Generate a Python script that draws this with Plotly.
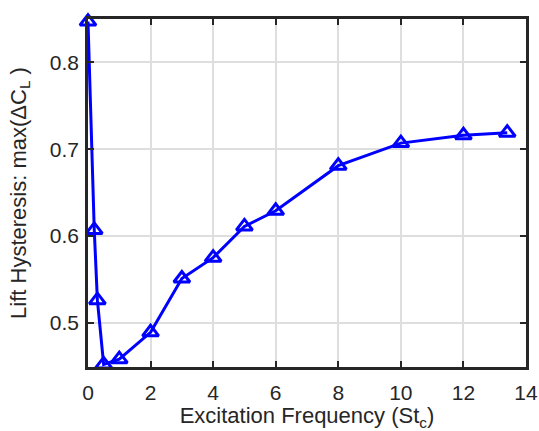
import plotly.graph_objects as go

freq = [0, 0.2, 0.3, 0.5, 1, 2, 3, 4, 5, 6, 8, 10, 12, 13.4]
hysteresis = [0.847, 0.607, 0.526, 0.452, 0.458, 0.489, 0.551, 0.575, 0.611, 0.629, 0.681, 0.707, 0.716, 0.719]
x_ticks = [0, 2, 4, 6, 8, 10, 12, 14]
y_ticks = [0.5, 0.6, 0.7, 0.8]

FONT = "Liberation Sans, Arial, Helvetica, sans-serif"
DARK = "#262626"

fig = go.Figure()
fig.add_trace(go.Scatter(
    x=freq, y=hysteresis, mode="lines+markers",
    line=dict(color="#0000FF", width=3),
    marker=dict(symbol="triangle-up-open", size=14, color="#0000FF",
                line=dict(color="#0000FF", width=3)),
    cliponaxis=False, showlegend=False,
))

axis_common = dict(
    showline=True, linecolor=DARK, linewidth=2.5, mirror="allticks",
    ticks="inside", ticklen=6, tickwidth=2, tickcolor=DARK,
    showgrid=True, gridcolor="#dedede", gridwidth=2,
    zeroline=False, automargin=False,
    tickfont=dict(family=FONT, size=21, color=DARK),
)

fig.update_xaxes(
    range=[0, 14], tickvals=x_ticks, ticktext=[str(v) for v in x_ticks],
    ticklabelstandoff=5,
    title=dict(text="Excitation Frequency (St<sub>c</sub>)",
               font=dict(family=FONT, size=22, color=DARK), standoff=4),
    **axis_common,
)
fig.update_yaxes(
    range=[0.449, 0.85], tickvals=y_ticks, ticktext=[f"{v:.1f}" for v in y_ticks],
    ticklabelstandoff=2,
    title=dict(text="Lift Hysteresis: max(ΔC<sub>L</sub> )",
               font=dict(family=FONT, size=22, color=DARK), standoff=18),
    **axis_common,
)

fig.update_layout(
    width=539, height=431,
    margin=dict(l=88, r=13, t=19, b=64),
    paper_bgcolor="white", plot_bgcolor="white",
)

# remove the browser's default body margin so the figure fills the window exactly
fig.write_html(
    "out.html",
    config={"displayModeBar": False},
    post_script="document.body.style.margin='0';document.body.style.overflow='hidden';",
)
